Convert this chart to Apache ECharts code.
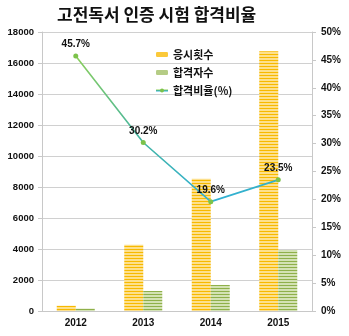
<!DOCTYPE html>
<html><head><meta charset="utf-8">
<script src="https://cdn.jsdelivr.net/npm/echarts@6/dist/echarts.min.js"></script>
<style>html,body{margin:0;padding:0;background:#fff}#c{width:349px;height:336px}</style>
</head><body><div id="c"></div>
<script>
const categories = ['2012', '2013', '2014', '2015'];
const attempts = [340, 4270, 8540, 16760];
const passers = [155, 1290, 1680, 3940];
const passRate = [45.7, 30.2, 19.6, 23.5];
const seriesNames = ['응시횟수', '합격자수', '합격비율(%)'];
const titleText = '고전독서 인증 시험 합격비율';

function stripes(c1, c2) {
  const cv = document.createElement('canvas');
  cv.width = 4; cv.height = 3;
  const g = cv.getContext('2d');
  g.fillStyle = c2; g.fillRect(0, 0, 4, 3);
  g.fillStyle = c1; g.fillRect(0, 0, 4, 1);
  return cv;
}
const yellowPat = { image: stripes('#f7b900', '#fde08c'), repeat: 'repeat' };
const greenPat = { image: stripes('#8fb04a', '#d3e2b4'), repeat: 'repeat' };

const font = '"Liberation Sans", "DejaVu Sans", sans-serif';
const chart = echarts.init(document.getElementById('c'));
chart.setOption({
  animation: false,
  backgroundColor: '#fff',
  title: {
    text: titleText, left: 52, top: 1,
    textStyle: { fontSize: 17, fontWeight: 'bold', color: '#111', fontFamily: '"Noto Sans CJK KR", sans-serif' }
  },
  legend: {
    orient: 'vertical', left: 150, top: 44, itemGap: 7,
    itemWidth: 12, itemHeight: 5,
    textStyle: { fontSize: 11, fontWeight: 'bold', color: '#111', fontFamily: '"Noto Sans CJK KR", sans-serif' },
    data: [
      { name: seriesNames[0], itemStyle: { color: '#fbc93a' } },
      { name: seriesNames[1], itemStyle: { color: '#b5cc85' } },
      { name: seriesNames[2] }
    ]
  },
  grid: { left: 42, right: 37, top: 32, bottom: 25 },
  xAxis: {
    type: 'category', data: categories,
    axisLine: { lineStyle: { color: '#c8c8c8' } },
    axisTick: { lineStyle: { color: '#c8c8c8' }, length: 4 },
    axisLabel: { color: '#111', fontSize: 10, fontWeight: 'bold', fontFamily: font, margin: 7 }
  },
  yAxis: [
    {
      type: 'value', min: 0, max: 18000, interval: 2000,
      axisLine: { show: true, lineStyle: { color: '#c8c8c8' } },
      axisTick: { show: true, lineStyle: { color: '#c8c8c8' }, length: 4 },
      splitLine: { lineStyle: { color: '#d0d0d0' } },
      axisLabel: { color: '#111', fontSize: 9.5, fontWeight: 'bold', fontFamily: font, margin: 8, formatter: v => String(v) }
    },
    {
      type: 'value', min: 0, max: 50, interval: 5, position: 'right',
      axisLine: { show: true, lineStyle: { color: '#c8c8c8' } },
      axisTick: { show: true, lineStyle: { color: '#c8c8c8' }, length: 4 },
      splitLine: { show: false },
      axisLabel: { color: '#111', fontSize: 10, fontWeight: 'bold', fontFamily: font, margin: 9, formatter: '{value}%' }
    }
  ],
  series: [
    {
      name: seriesNames[0], type: 'bar', data: attempts, barWidth: 19, barGap: '0%',
      itemStyle: { color: yellowPat }
    },
    {
      name: seriesNames[1], type: 'bar', data: passers, barWidth: 19,
      itemStyle: { color: greenPat }
    },
    {
      name: seriesNames[2], type: 'line', yAxisIndex: 1, data: passRate,
      symbol: 'circle', symbolSize: 5,
      itemStyle: { color: '#7cc24a' },
      lineStyle: {
        width: 1.6,
        color: new echarts.graphic.LinearGradient(0, 0, 0, 1, [
          { offset: 0, color: '#8fd05a' },
          { offset: 0.55, color: '#45b5a0' },
          { offset: 1, color: '#2fb0d8' }
        ])
      },
      label: {
        show: true, position: 'top', distance: 4,
        formatter: p => p.value.toFixed(1) + '%',
        color: '#111', fontSize: 10, fontWeight: 'bold', fontFamily: font
      },
      z: 5
    }
  ]
});
</script></body></html>
